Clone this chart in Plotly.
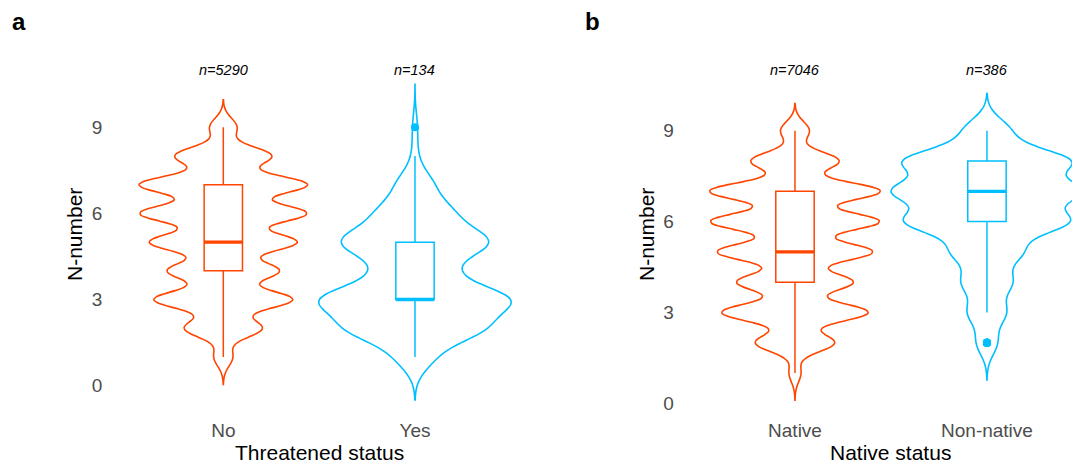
import numpy as np
import plotly.graph_objects as go

# N-number values observed (integers 1..9)
n_levels = [1, 2, 3, 4, 5, 6, 7, 8, 9]

# Number of taxa at each N-number
threat_no = [105, 432, 771, 619, 818, 923, 934, 537, 151]
threat_yes = [7, 26, 37, 12, 29, 14, 7, 1, 1]
native = [87, 578, 1069, 849, 1133, 1231, 1246, 643, 210]
non_native = [0, 11, 20, 26, 36, 85, 97, 87, 24]

threat_labels = ["No", "Yes"]
native_labels = ["Native", "Non-native"]

# KDE bandwidths per group
threat_bw = [0.32, 0.5]
native_bw = [0.3, 0.41]

y_ticks = [0, 3, 6, 9]

ORANGE = "#FF4500"
BLUE = "#00BFFF"
FONT = "Liberation Sans"


def expand(counts):
    return np.repeat(np.array(n_levels, dtype=float), counts)


def kde_peak(s, bw):
    # peak of the gaussian density estimate, used for equal-area scaling
    grid = np.linspace(s.min() - 3 * bw, s.max() + 3 * bw, 600)
    vals, cnt = np.unique(s, return_counts=True)
    z = (grid[:, None] - vals[None, :]) / bw
    dens = (np.exp(-0.5 * z ** 2) * cnt[None, :]).sum(axis=1) / (len(s) * bw * np.sqrt(2 * np.pi))
    return dens.max()


fig = go.Figure()


def add_panel(xa, ya, count_sets, bws):
    samples = [expand(c) for c in count_sets]
    peaks = [kde_peak(s, bw) for s, bw in zip(samples, bws)]
    top = max(peaks)
    for i, (s, bw, color) in enumerate(zip(samples, bws, [ORANGE, BLUE])):
        pos = i + 1
        fig.add_trace(go.Violin(
            x0=pos, y=s, xaxis=xa, yaxis=ya,
            bandwidth=bw, spanmode="manual",
            span=[s.min() - 3 * bw, s.max() + 3 * bw],
            points=False, box_visible=False, meanline_visible=False,
            line=dict(color=color, width=1.6),
            fillcolor="rgba(0,0,0,0)",
            scalemode="width", width=1.0 * peaks[i] / top,
            hoverinfo="skip", showlegend=False,
        ))
        fig.add_trace(go.Box(
            x0=pos, y=s, xaxis=xa, yaxis=ya,
            width=0.2, whiskerwidth=0,
            line=dict(color=color, width=1.5),
            fillcolor="rgba(0,0,0,0)",
            marker=dict(color=color, size=8),
            boxpoints="outliers", jitter=0, pointpos=0,
            hoverinfo="skip", showlegend=False,
        ))
        # thicker median bar
        med = float(np.median(s))
        fig.add_trace(go.Box(
            x=[pos], q1=[med], median=[med], q3=[med],
            lowerfence=[med], upperfence=[med],
            xaxis=xa, yaxis=ya, width=0.2, whiskerwidth=0,
            line=dict(color=color, width=3.2),
            fillcolor="rgba(0,0,0,0)",
            hoverinfo="skip", showlegend=False,
        ))
        fig.add_annotation(
            x=pos, y=11, xref=xa, yref=ya, text=f"n={len(s)}",
            showarrow=False, xanchor="center", yanchor="middle",
            font=dict(family=FONT, size=14.5, color="black", style="italic"),
        )


add_panel("x", "y", [threat_no, threat_yes], threat_bw)
add_panel("x2", "y2", [native, non_native], native_bw)

W, H = 1072, 466
y_dom = [(H - 417) / H, (H - 53) / H]

axis_common = dict(
    showgrid=False, zeroline=False, showline=False, ticks="",
    tickfont=dict(family=FONT, size=19, color="#4D4D4D"),
)

fig.update_layout(
    width=W, height=H,
    margin=dict(l=0, r=0, t=0, b=0),
    paper_bgcolor="white", plot_bgcolor="white",
    violinmode="overlay", boxmode="overlay",
    xaxis=dict(domain=[108.3 / W, 530 / W], range=[0.4, 2.6], anchor="y",
               tickvals=[1, 2], ticktext=threat_labels, ticklabelstandoff=0,
               **axis_common),
    yaxis=dict(domain=y_dom, range=[-1.09, 11.588], anchor="x",
               tickvals=y_ticks, ticklabelstandoff=5, **axis_common),
    xaxis2=dict(domain=[679.8 / W, 1.0], range=[0.4, 2.443], anchor="y2",
                tickvals=[1, 2], ticktext=native_labels, ticklabelstandoff=0,
                **axis_common),
    yaxis2=dict(domain=y_dom, range=[-0.452, 11.565], anchor="x2",
                tickvals=y_ticks, ticklabelstandoff=5, **axis_common),
)

title_font = dict(family=FONT, size=21, color="black")
for x, y, text, angle in [
    (319.2, 452, "Threatened status", 0),
    (890.9, 452, "Native status", 0),
    (74, 235, "N-number", -90),
    (646, 235, "N-number", -90),
]:
    fig.add_annotation(
        x=x / W, y=1 - y / H, xref="paper", yref="paper", text=text,
        textangle=angle, showarrow=False, xanchor="center", yanchor="middle",
        font=title_font,
    )

for x, text in [(10, "a"), (583, "b")]:
    fig.add_annotation(
        x=x / W, y=1 - 21 / H, xref="paper", yref="paper", text=f"<b>{text}</b>",
        showarrow=False, xanchor="left", yanchor="middle",
        font=dict(family=FONT, size=24, color="black"),
    )

fig.write_html("out.html")
